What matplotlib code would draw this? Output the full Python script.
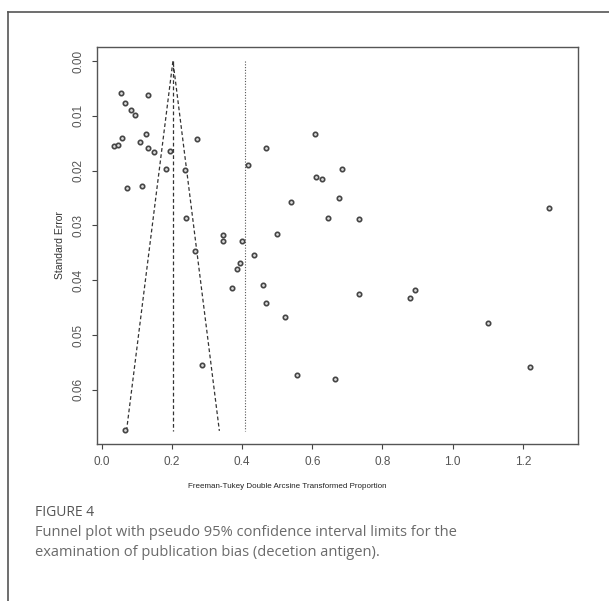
import numpy as np
import matplotlib
matplotlib.use("Agg")
import matplotlib.pyplot as plt
from matplotlib.lines import Line2D

plt.rcParams['font.family'] = ['Liberation Sans', 'DejaVu Sans']

# study estimates (Freeman-Tukey transformed proportion) and standard errors
prop = [0.056, 0.065, 0.083, 0.096, 0.133, 0.036, 0.046, 0.058, 0.110, 0.127,
        0.131, 0.149, 0.194, 0.183, 0.238, 0.271, 0.071, 0.116, 0.240, 0.267,
        0.345, 0.345, 0.400, 0.434, 0.394, 0.385, 0.372, 0.460, 0.418, 0.469,
        0.540, 0.500, 0.608, 0.611, 0.628, 0.645, 0.677, 0.686, 0.732, 1.275,
        0.734, 0.893, 0.879, 0.469, 0.521, 0.285, 0.556, 0.664, 0.065, 1.101,
        1.220]
se = [0.0058, 0.0076, 0.0090, 0.0099, 0.0062, 0.0155, 0.0153, 0.0141, 0.0147, 0.0133,
      0.0158, 0.0167, 0.0165, 0.0198, 0.0199, 0.0142, 0.0232, 0.0228, 0.0287, 0.0347,
      0.0318, 0.0328, 0.0328, 0.0354, 0.0368, 0.0380, 0.0415, 0.0409, 0.0190, 0.0159,
      0.0257, 0.0315, 0.0134, 0.0211, 0.0216, 0.0287, 0.0250, 0.0198, 0.0288, 0.0269,
      0.0426, 0.0418, 0.0433, 0.0442, 0.0468, 0.0555, 0.0573, 0.0580, 0.0673, 0.0479,
      0.0558]

pooled = 0.203      # funnel centre
mean_line = 0.409   # dotted reference line
se_max = 0.0675

xticks = [0.0, 0.2, 0.4, 0.6, 0.8, 1.0, 1.2]
yticks = [0.00, 0.01, 0.02, 0.03, 0.04, 0.05, 0.06]

fig = plt.figure(figsize=(6.09, 6.01), dpi=100)

# outer frame of the figure panel
fig.add_artist(Line2D([8/609, 1.0], [1-12/601, 1-12/601], color='#555555', lw=1.2,
                      transform=fig.transFigure))
fig.add_artist(Line2D([8/609, 8/609], [1-12/601, 0.0], color='#555555', lw=1.2,
                      transform=fig.transFigure))

ax = fig.add_axes([0.1588, 0.2612, 0.7902, 0.6611])

# funnel
lo = pooled - 1.96 * se_max
hi = pooled + 1.96 * se_max
ax.plot([lo, pooled, hi], [se_max, 0, se_max], color='#333333', lw=0.9, ls=(0, (3, 2)))
ax.plot([pooled, pooled], [0, se_max], color='#333333', lw=0.9, ls=(0, (3, 2)))
ax.plot([mean_line, mean_line], [0, se_max], color='#555555', lw=0.8, ls=(0, (1, 1.5)))

ax.scatter(prop, se, s=10, facecolors='#dddddd', edgecolors='#444444', linewidths=1.2, zorder=3)

ax.set_xlim(-0.0142, 1.357)
ax.set_ylim(0.0699, -0.0026)
ax.set_xticks(xticks)
ax.set_xticklabels(['0.0', '0.2', '0.4', '0.6', '0.8', '1.0', '1.2'], color='#555555')
ax.set_yticks(yticks)
ax.set_yticklabels(['0.00', '0.01', '0.02', '0.03', '0.04', '0.05', '0.06'],
                   rotation=90, va='center', color='#555555')
ax.tick_params(labelsize=8.5, length=3.5, width=0.8, color='#444444', pad=5)
for s in ax.spines.values():
    s.set_color('#555555')
    s.set_linewidth(1.0)

ax.set_ylabel('Standard Error', fontsize=7.5, color='#333333', labelpad=6)
fig.text(287/609, 1-486/601, 'Freeman-Tukey Double Arcsine Transformed Proportion',
         fontsize=5.8, ha='center', va='center', color='#222222')

# caption
fig.text(35/609, 1-513/601, 'FIGURE 4', fontsize=10, color='#555555',
         family='Open Sans', weight='medium', va='center')
fig.text(35/609, 1-533/601, 'Funnel plot with pseudo 95% confidence interval limits for the',
         fontsize=10.5, color='#6a6a6a', family='Open Sans', va='center')
fig.text(35/609, 1-552/601, 'examination of publication bias (decetion antigen).',
         fontsize=10.5, color='#6a6a6a', family='Open Sans', va='center')

fig.savefig('out.png', dpi=100)
